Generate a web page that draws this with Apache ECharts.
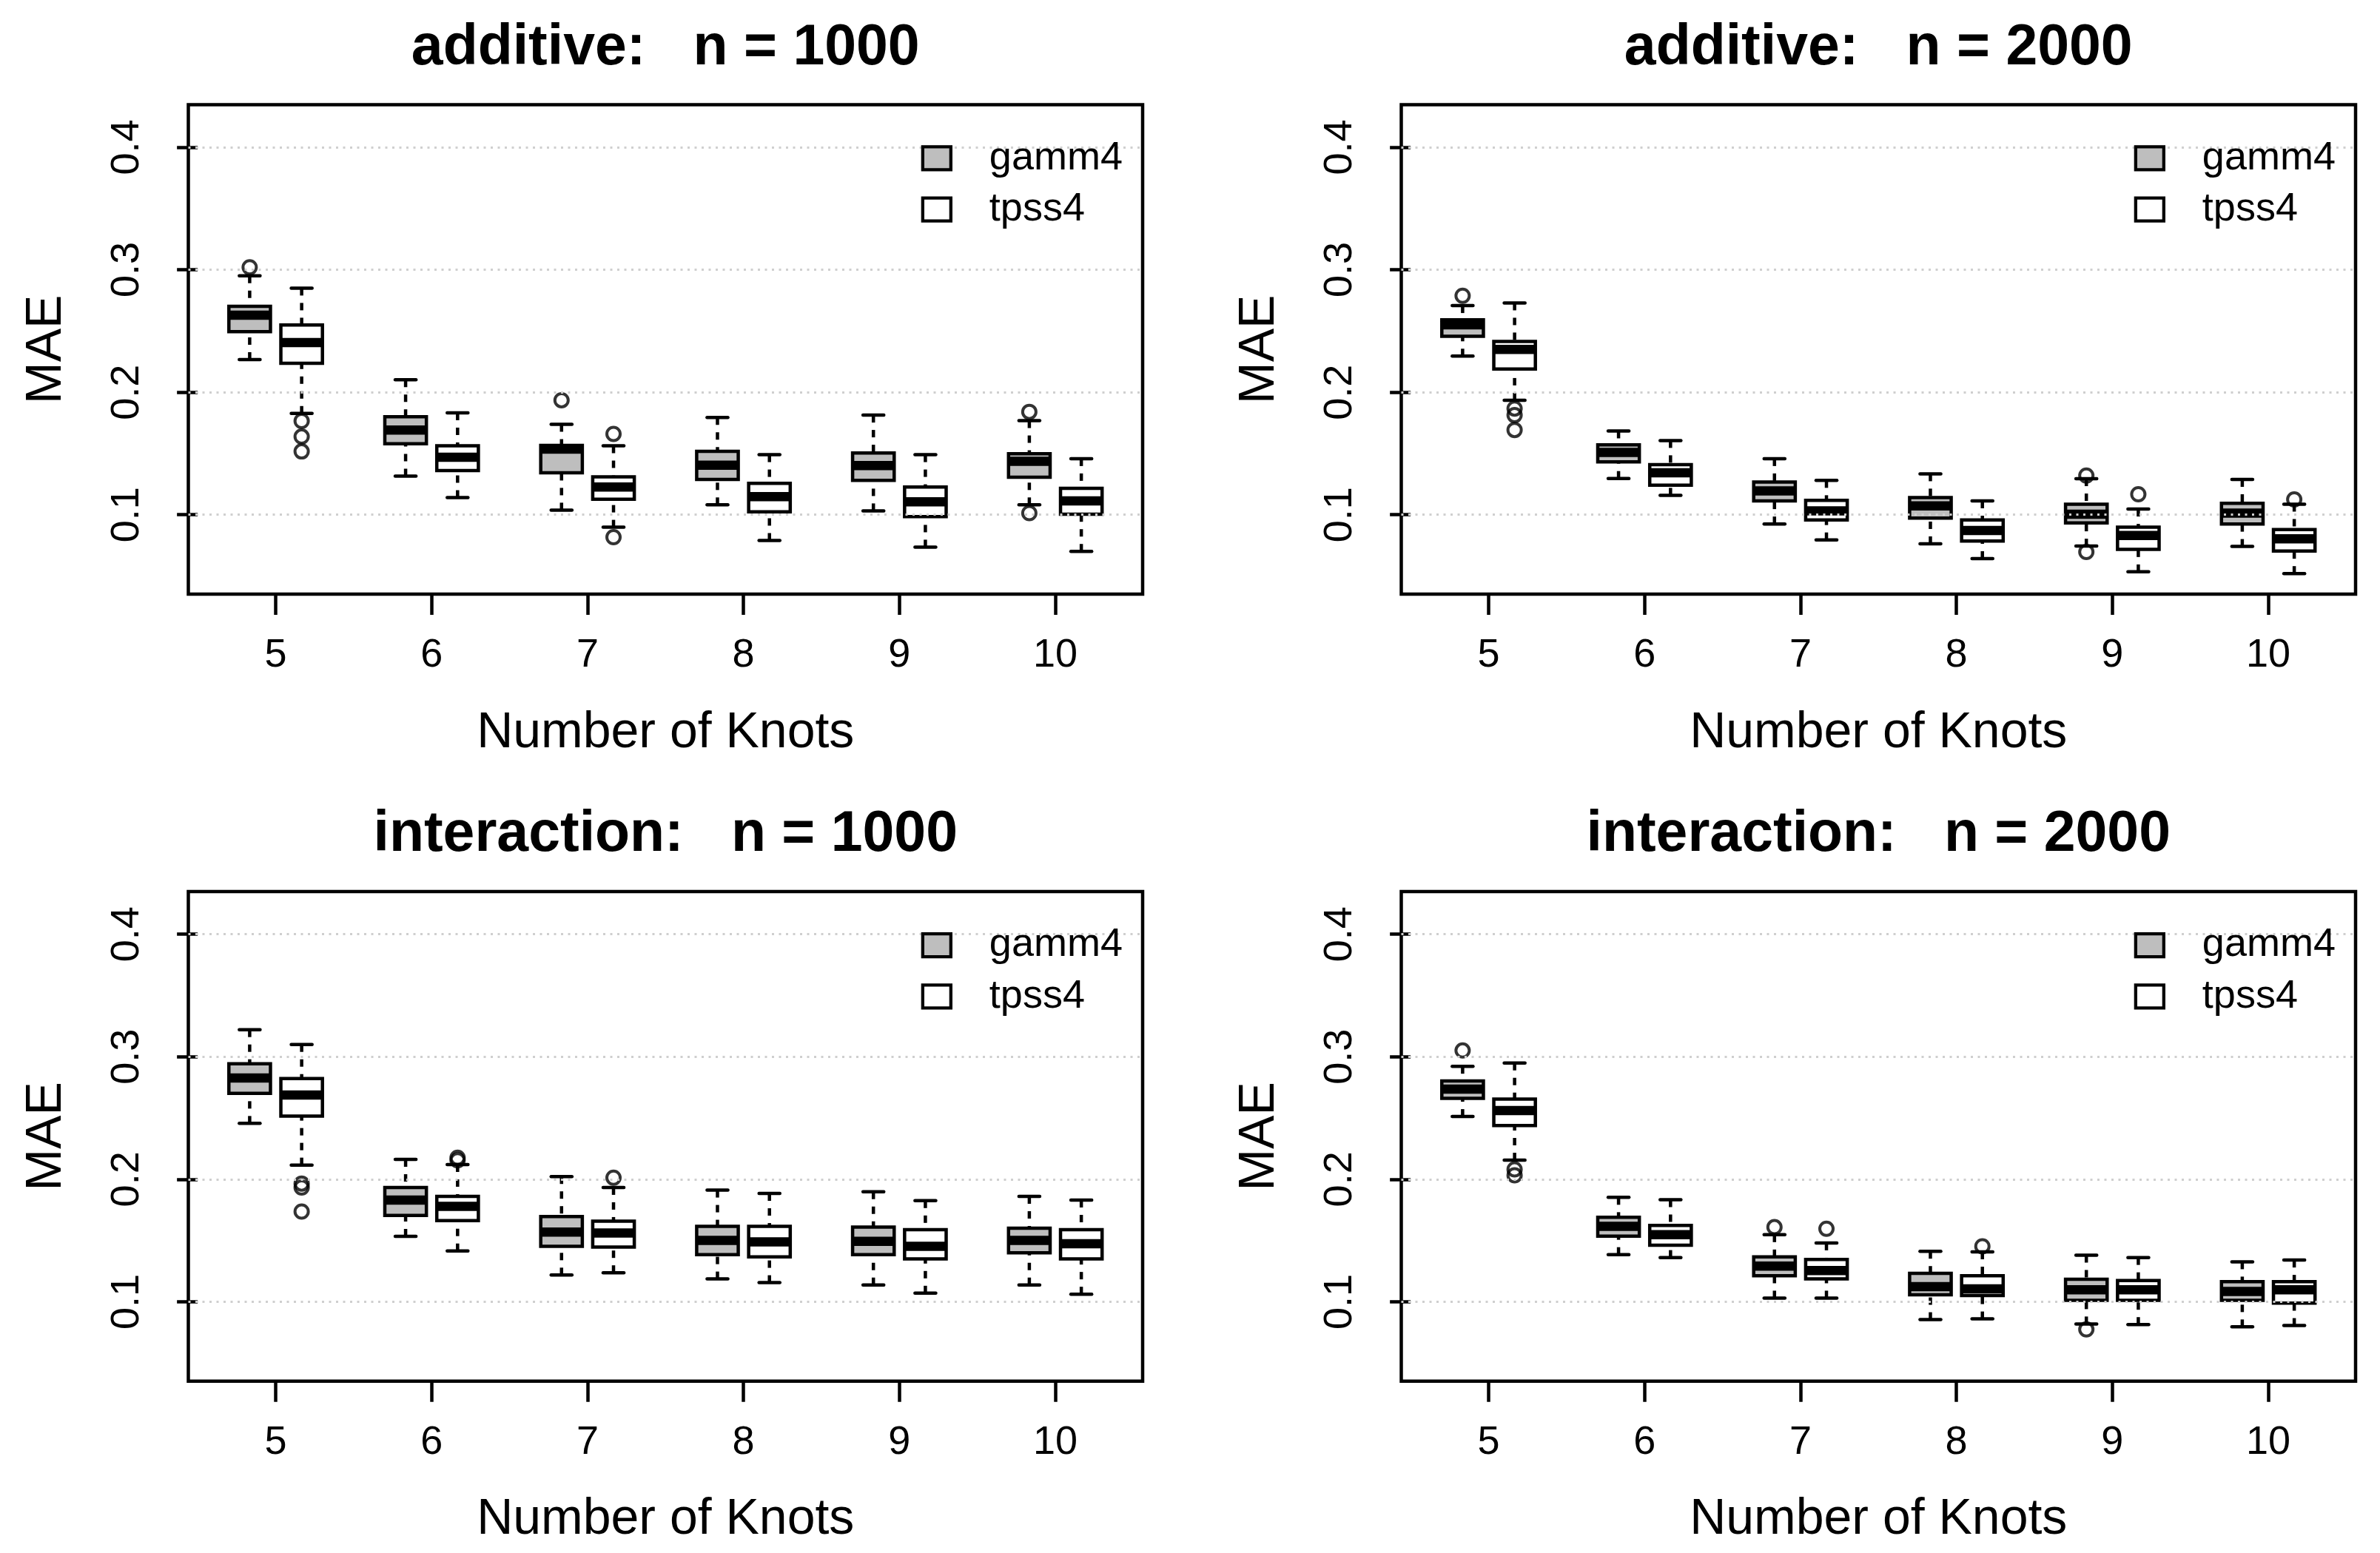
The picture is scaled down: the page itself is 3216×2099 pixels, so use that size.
<!DOCTYPE html>
<html><head><meta charset="utf-8">
<script src="https://cdn.jsdelivr.net/npm/echarts@6/dist/echarts.min.js"></script>
<style>html,body{margin:0;padding:0;background:#fff}#c{width:3216px;height:2099px}</style>
</head><body><div id="c"></div>
<script>
// ---------- data ----------
const knots = [5, 6, 7, 8, 9, 10];
const yTicks = [0.1, 0.2, 0.3, 0.4];
const panelTitles = ['additive:   n = 1000', 'additive:   n = 2000', 'interaction:   n = 1000', 'interaction:   n = 2000'];
const seriesNames = ['gamm4', 'tpss4'];

// box stats per knot: [lower whisker, Q1, median, Q3, upper whisker]
const addN1000Gamm4 = [
  [0.2266, 0.2495, 0.2629, 0.2702, 0.2950],
  [0.1315, 0.1579, 0.1692, 0.1800, 0.2102],
  [0.1038, 0.1342, 0.1536, 0.1566, 0.1738],
  [0.1081, 0.1288, 0.1404, 0.1517, 0.1794],
  [0.1032, 0.1280, 0.1401, 0.1504, 0.1813],
  [0.1081, 0.1307, 0.1436, 0.1498, 0.1768]
];
const addN1000Tpss4 = [
  [0.1827, 0.2236, 0.2406, 0.2549, 0.2850],
  [0.1140, 0.1361, 0.1469, 0.1563, 0.1832],
  [0.0898, 0.1127, 0.1226, 0.1310, 0.1563],
  [0.0790, 0.1024, 0.1148, 0.1256, 0.1490],
  [0.0736, 0.0984, 0.1105, 0.1226, 0.1490],
  [0.0701, 0.1005, 0.1113, 0.1215, 0.1458]
];
// outliers: [knot index, value]
const addN1000Gamm4Out = [[0, 0.3020], [2, 0.1935], [5, 0.1840], [5, 0.1013]];
const addN1000Tpss4Out = [[0, 0.1765], [0, 0.1638], [0, 0.1517], [2, 0.1660], [2, 0.0817]];

const addN2000Gamm4 = [
  [0.2295, 0.2457, 0.2551, 0.2592, 0.2707],
  [0.1296, 0.1431, 0.1509, 0.1571, 0.1684],
  [0.0925, 0.1113, 0.1194, 0.1267, 0.1458],
  [0.0763, 0.0973, 0.1073, 0.1140, 0.1334],
  [0.0744, 0.0933, 0.1005, 0.1086, 0.1294],
  [0.0741, 0.0925, 0.1013, 0.1094, 0.1288]
];
const addN2000Tpss4 = [
  [0.1935, 0.2190, 0.2350, 0.2414, 0.2729],
  [0.1159, 0.1242, 0.1342, 0.1409, 0.1606],
  [0.0795, 0.0957, 0.1032, 0.1118, 0.1280],
  [0.0642, 0.0785, 0.0871, 0.0957, 0.1113],
  [0.0534, 0.0717, 0.0830, 0.0898, 0.1046],
  [0.0520, 0.0704, 0.0803, 0.0879, 0.1086]
];
const addN2000Gamm4Out = [[0, 0.2788], [4, 0.1320], [4, 0.0696]];
const addN2000Tpss4Out = [[0, 0.1867], [0, 0.1813], [0, 0.1692], [4, 0.1167], [5, 0.1125]];

const intN1000Gamm4 = [
  [0.2456, 0.2701, 0.2827, 0.2943, 0.3221],
  [0.1534, 0.1704, 0.1830, 0.1933, 0.2162],
  [0.1218, 0.1453, 0.1569, 0.1695, 0.2022],
  [0.1186, 0.1385, 0.1501, 0.1615, 0.1911],
  [0.1137, 0.1385, 0.1493, 0.1609, 0.1898],
  [0.1137, 0.1399, 0.1501, 0.1601, 0.1860]
];
const intN1000Tpss4 = [
  [0.2116, 0.2515, 0.2687, 0.2822, 0.3100],
  [0.1415, 0.1663, 0.1779, 0.1860, 0.2120],
  [0.1237, 0.1447, 0.1561, 0.1658, 0.1933],
  [0.1156, 0.1367, 0.1488, 0.1615, 0.1884],
  [0.1070, 0.1350, 0.1453, 0.1588, 0.1825],
  [0.1062, 0.1350, 0.1474, 0.1588, 0.1830]
];
const intN1000Gamm4Out = [];
const intN1000Tpss4Out = [[0, 0.1965], [0, 0.1933], [0, 0.1736], [1, 0.2175], [1, 0.2155], [2, 0.2013]];

const intN2000Gamm4 = [
  [0.2512, 0.2660, 0.2736, 0.2803, 0.2922],
  [0.1385, 0.1536, 0.1615, 0.1690, 0.1852],
  [0.1030, 0.1213, 0.1291, 0.1367, 0.1547],
  [0.0854, 0.1057, 0.1124, 0.1232, 0.1412],
  [0.0819, 0.1011, 0.1097, 0.1183, 0.1380],
  [0.0795, 0.1011, 0.1084, 0.1164, 0.1326]
];
const intN2000Tpss4 = [
  [0.2156, 0.2439, 0.2561, 0.2655, 0.2949],
  [0.1361, 0.1461, 0.1547, 0.1623, 0.1833],
  [0.1030, 0.1186, 0.1255, 0.1345, 0.1480],
  [0.0860, 0.1051, 0.1105, 0.1213, 0.1407],
  [0.0814, 0.1011, 0.1097, 0.1173, 0.1361],
  [0.0806, 0.0989, 0.1097, 0.1164, 0.1340]
];
const intN2000Gamm4Out = [[0, 0.3051], [2, 0.1609], [4, 0.0774]];
const intN2000Tpss4Out = [[0, 0.2081], [0, 0.2032], [2, 0.1596], [3, 0.1453]];

const panels = [
  { g: addN1000Gamm4, t: addN1000Tpss4, go: addN1000Gamm4Out, to: addN1000Tpss4Out },
  { g: addN2000Gamm4, t: addN2000Tpss4, go: addN2000Gamm4Out, to: addN2000Tpss4Out },
  { g: intN1000Gamm4, t: intN1000Tpss4, go: intN1000Gamm4Out, to: intN1000Tpss4Out },
  { g: intN2000Gamm4, t: intN2000Tpss4, go: intN2000Gamm4Out, to: intN2000Tpss4Out }
];

// ---------- layout / style ----------
const FONT = "'Liberation Sans', Arial, Helvetica, sans-serif";
const GRAY = '#bebebe';
const LW = 4.5;
const W = 1289.5, H = 661.6;
const lefts = [254.5, 1893.5, 254.5, 1893.5];
const tops = [141.4, 141.4, 1205.1, 1205.1];
const groupPos = (i, k) => 3 * i + 1 + k;          // gamm4 / tpss4 side by side
const xTickPos = knots.map((_, i) => 3 * i + 1.5);

function makeRender(fill) {
  return function (params, api) {
    const x = api.value(0);
    const lo = api.coord([x, api.value(1)]);
    const q1 = api.coord([x, api.value(2)]);
    const md = api.coord([x, api.value(3)]);
    const q3 = api.coord([x, api.value(4)]);
    const hi = api.coord([x, api.value(5)]);
    const bw = api.size([0.8, 0])[0];
    const sw = bw / 4;
    const cx = md[0];
    const dashStyle = { stroke: '#000', lineWidth: LW, lineDash: [10, 10], lineCap: 'butt' };
    const solid = { stroke: '#000', lineWidth: LW, lineCap: 'round' };
    return {
      type: 'group',
      children: [
        { type: 'line', shape: { x1: cx, y1: hi[1], x2: cx, y2: q3[1] }, style: dashStyle },
        { type: 'line', shape: { x1: cx, y1: lo[1], x2: cx, y2: q1[1] }, style: dashStyle },
        { type: 'line', shape: { x1: cx - sw, y1: hi[1], x2: cx + sw, y2: hi[1] }, style: solid },
        { type: 'line', shape: { x1: cx - sw, y1: lo[1], x2: cx + sw, y2: lo[1] }, style: solid },
        { type: 'rect', shape: { x: cx - bw / 2, y: q3[1], width: bw, height: q1[1] - q3[1] },
          style: { fill: fill, stroke: '#000', lineWidth: LW } },
        { type: 'line', shape: { x1: cx - bw / 2, y1: md[1], x2: cx + bw / 2, y2: md[1] },
          style: { stroke: '#000', lineWidth: 12.5, lineCap: 'butt' } }
      ]
    };
  };
}

const grid = [], xAxis = [], yAxis = [], series = [], legend = [], graphic = [];
panels.forEach((p, k) => {
  grid.push({ left: lefts[k], top: tops[k], width: W, height: H, show: true,
    borderColor: '#000', borderWidth: LW, backgroundColor: 'rgba(0,0,0,0)' });
  xAxis.push({
    gridIndex: k, type: 'value', min: -0.18, max: 18.18,
    axisLine: { show: false }, splitLine: { show: false },
    axisTick: { show: true, customValues: xTickPos, length: 28, lineStyle: { color: '#000', width: LW } },
    axisLabel: { show: true, customValues: xTickPos, margin: 56, fontSize: 54, color: '#000', fontFamily: FONT,
      formatter: v => String(knots[Math.round((v - 1.5) / 3)]) },
    name: 'Number of Knots', nameLocation: 'middle', nameGap: 154,
    nameTextStyle: { fontSize: 68, color: '#000', fontFamily: FONT }
  });
  yAxis.push({
    gridIndex: k, type: 'value', min: 0.0352, max: 0.4348,
    axisLine: { show: false }, splitLine: { show: false },
    axisTick: { show: true, customValues: yTicks, length: 28, lineStyle: { color: '#000', width: LW } },
    axisLabel: { show: true, customValues: yTicks, rotate: 90, margin: 55, fontSize: 54, color: '#000', fontFamily: FONT,
      formatter: v => v.toFixed(1) },
    name: 'MAE', nameLocation: 'middle', nameGap: 157,
    nameTextStyle: { fontSize: 68, color: '#000', fontFamily: FONT }
  });
  const boxes = [[p.g, GRAY, 0], [p.t, '#ffffff', 1]];
  boxes.forEach(([arr, fill, side]) => {
    const s = {
      type: 'custom', name: seriesNames[side], xAxisIndex: k, yAxisIndex: k,
      renderItem: makeRender(fill), itemStyle: { color: fill, borderColor: '#000' },
      encode: { x: 0, y: [1, 2, 3, 4, 5] },
      data: arr.map((b, i) => [groupPos(i, side)].concat(b)), z: 2
    };
    if (side === 0) {
      s.markLine = {
        silent: true, symbol: 'none', label: { show: false }, animation: false,
        lineStyle: { color: '#cfcfcf', type: [3, 6.5], width: 3.2 },
        data: yTicks.map(v => ({ yAxis: v }))
      };
    }
    series.push(s);
  });
  [[p.go, 0], [p.to, 1]].forEach(([arr, side]) => {
    series.push({
      type: 'scatter', name: seriesNames[side] + ' outliers', xAxisIndex: k, yAxisIndex: k,
      symbol: 'circle', symbolSize: 18,
      itemStyle: { color: 'rgba(0,0,0,0)', borderColor: '#000', borderWidth: 4 },
      data: arr.map(([i, v]) => [groupPos(i, side), v]), z: 3
    });
  });
  legend.push({
    z: 8,
    left: lefts[k] + 990.2, top: tops[k] + 45.5, orient: 'vertical', padding: 0,
    itemWidth: 38, itemHeight: 31, itemGap: 15.3, selectedMode: false,
    textStyle: { fontSize: 54, color: '#000', fontFamily: FONT, padding: [0, 0, 0, 47], lineHeight: 31 },
    data: [
      { name: 'gamm4', icon: 'rect', itemStyle: { color: GRAY, borderColor: '#000', borderWidth: 4.3 } },
      { name: 'tpss4', icon: 'rect', itemStyle: { color: '#ffffff', borderColor: '#000', borderWidth: 4.3 } }
    ]
  });
  graphic.push({
    type: 'text', x: lefts[k] + W / 2, y: tops[k] - 76,
    style: { text: panelTitles[k], fontSize: 77, fontWeight: 'bold', fontFamily: FONT, fill: '#000',
      align: 'center', verticalAlign: 'middle' }
  });
});

const chart = echarts.init(document.getElementById('c'), null, { renderer: 'canvas' });
chart.setOption({
  backgroundColor: '#ffffff', animation: false,
  grid, xAxis, yAxis, series, legend, graphic
});
</script></body></html>
